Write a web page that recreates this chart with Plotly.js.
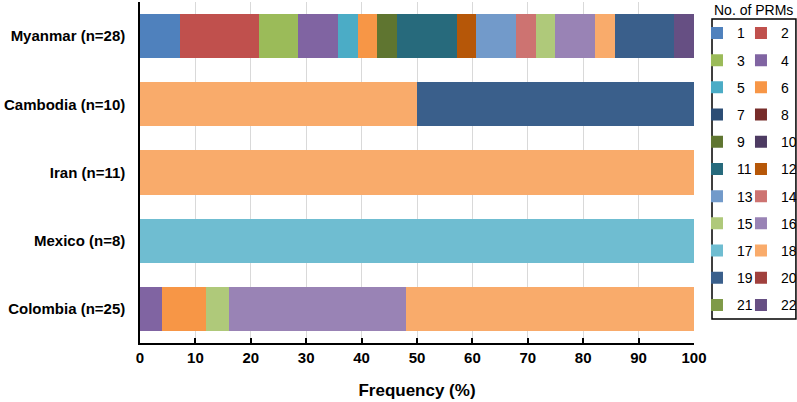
<!DOCTYPE html>
<html>
<head>
<meta charset="utf-8">
<script src="https://cdn.plot.ly/plotly-3.0.1.min.js"></script>
<style>html,body{margin:0;padding:0;background:#fff;}#chart{width:797px;height:402px;}</style>
</head>
<body>
<div id="chart"></div>
<script>
// Countries (top to bottom)
var countries = ["Myanmar (n=28)", "Cambodia (n=10)", "Iran (n=11)", "Mexico (n=8)", "Colombia (n=25)"];
// Number of PRMs categories
var prmLabels = ["1","2","3","4","5","6","7","8","9","10","11","12","13","14","15","16","17","18","19","20","21","22"];
// Frequency (%) per PRM count, per country
var myanmar  = [7.14, 14.29, 7.14, 7.14, 3.57, 3.57, 0, 0, 3.57, 0, 10.71, 3.57, 7.14, 3.57, 3.57, 7.14, 0, 3.57, 10.71, 0, 0, 3.57];
var cambodia = [0, 0, 0, 0, 0, 0, 0, 0, 0, 0, 0, 0, 0, 0, 0, 0, 0, 50, 50, 0, 0, 0];
var iran     = [0, 0, 0, 0, 0, 0, 0, 0, 0, 0, 0, 0, 0, 0, 0, 0, 0, 100, 0, 0, 0, 0];
var mexico   = [0, 0, 0, 0, 0, 0, 0, 0, 0, 0, 0, 0, 0, 0, 0, 0, 100, 0, 0, 0, 0, 0];
var colombia = [0, 0, 0, 4, 0, 8, 0, 0, 0, 0, 0, 0, 0, 0, 4, 32, 0, 52, 0, 0, 0, 0];
var colors = ["#4F81BD","#C0504D","#9BBB59","#8064A2","#4BACC6","#F79646","#2C4D75","#772C2A",
              "#5F7530","#4D3B62","#276A7C","#B65708","#729ACA","#CD7371","#AFC97A","#9983B5",
              "#6FBDD1","#F9AB6B","#3A5F8B","#A0403D","#7F9A48","#664F83"];

var series = [myanmar, cambodia, iran, mexico, colombia];
var traces = prmLabels.map(function(lbl, i){
  return {
    type: "bar",
    orientation: "h",
    name: lbl,
    y: countries,
    x: series.map(function(s){ return s[i]; }),
    marker: {color: colors[i], line: {width: 0}},
    legend: (i % 2 === 0) ? "legend" : "legend2",
    legendgroup: "g" + lbl,
    hoverinfo: "x+name"
  };
});

var legendCommon = {
  orientation: "v",
  xanchor: "left",
  yanchor: "top",
  bgcolor: "rgba(0,0,0,0)",
  borderwidth: 0,
  traceorder: "grouped",
  tracegroupgap: 6,
  font: {family: "Liberation Sans, Arial, sans-serif", size: 14, color: "#000"},
  itemclick: false
};

var layout = {
  width: 797, height: 402,
  margin: {l: 140, r: 103, t: 2, b: 59, autoexpand: false},
  paper_bgcolor: "#fff", plot_bgcolor: "#fff",
  barmode: "stack",
  bargap: 0.35,
  font: {family: "Liberation Sans, Arial, sans-serif", color: "#000"},
  xaxis: {
    range: [0, 100], dtick: 10, tick0: 0,
    showgrid: true, gridcolor: "#d9d9d9", gridwidth: 1,
    showline: true, linecolor: "#000", linewidth: 1.5,
    ticks: "inside", ticklen: 5, tickcolor: "#000", tickwidth: 1.5,
    tickfont: {size: 15, family: "Liberation Sans, Arial, sans-serif", weight: "bold"},
    title: {text: "<b>Frequency (%)</b>", font: {size: 17}, standoff: 19},
    zeroline: false, fixedrange: true
  },
  yaxis: {
    type: "category",
    categoryorder: "array", categoryarray: countries,
    autorange: "reversed",
    showline: true, linecolor: "#000", linewidth: 1.5,
    ticks: "", showgrid: false,
    tickfont: {size: 15, family: "Liberation Sans, Arial, sans-serif", weight: "bold"},
    ticklabelstandoff: 10,
    fixedrange: true
  },
  legend: Object.assign({}, legendCommon, {x: 1.0054, y: 0.955}),
  legend2: Object.assign({}, legendCommon, {x: 1.0848, y: 0.955}),
  shapes: [{
    type: "rect", xref: "paper", yref: "paper",
    x0: 1.0325, x1: 1.184, y0: 0.0704, y1: 0.950,
    line: {color: "#000", width: 1.5}, fillcolor: "rgba(0,0,0,0)"
  }],
  annotations: [{
    xref: "paper", yref: "paper", x: 1.107, y: 0.977, xanchor: "center", yanchor: "middle",
    text: "No. of PRMs", showarrow: false,
    font: {size: 14, family: "Liberation Sans, Arial, sans-serif", color: "#000"}
  }],
  showlegend: true
};

Plotly.newPlot("chart", traces, layout, {displayModeBar: false});
</script>
</body>
</html>
